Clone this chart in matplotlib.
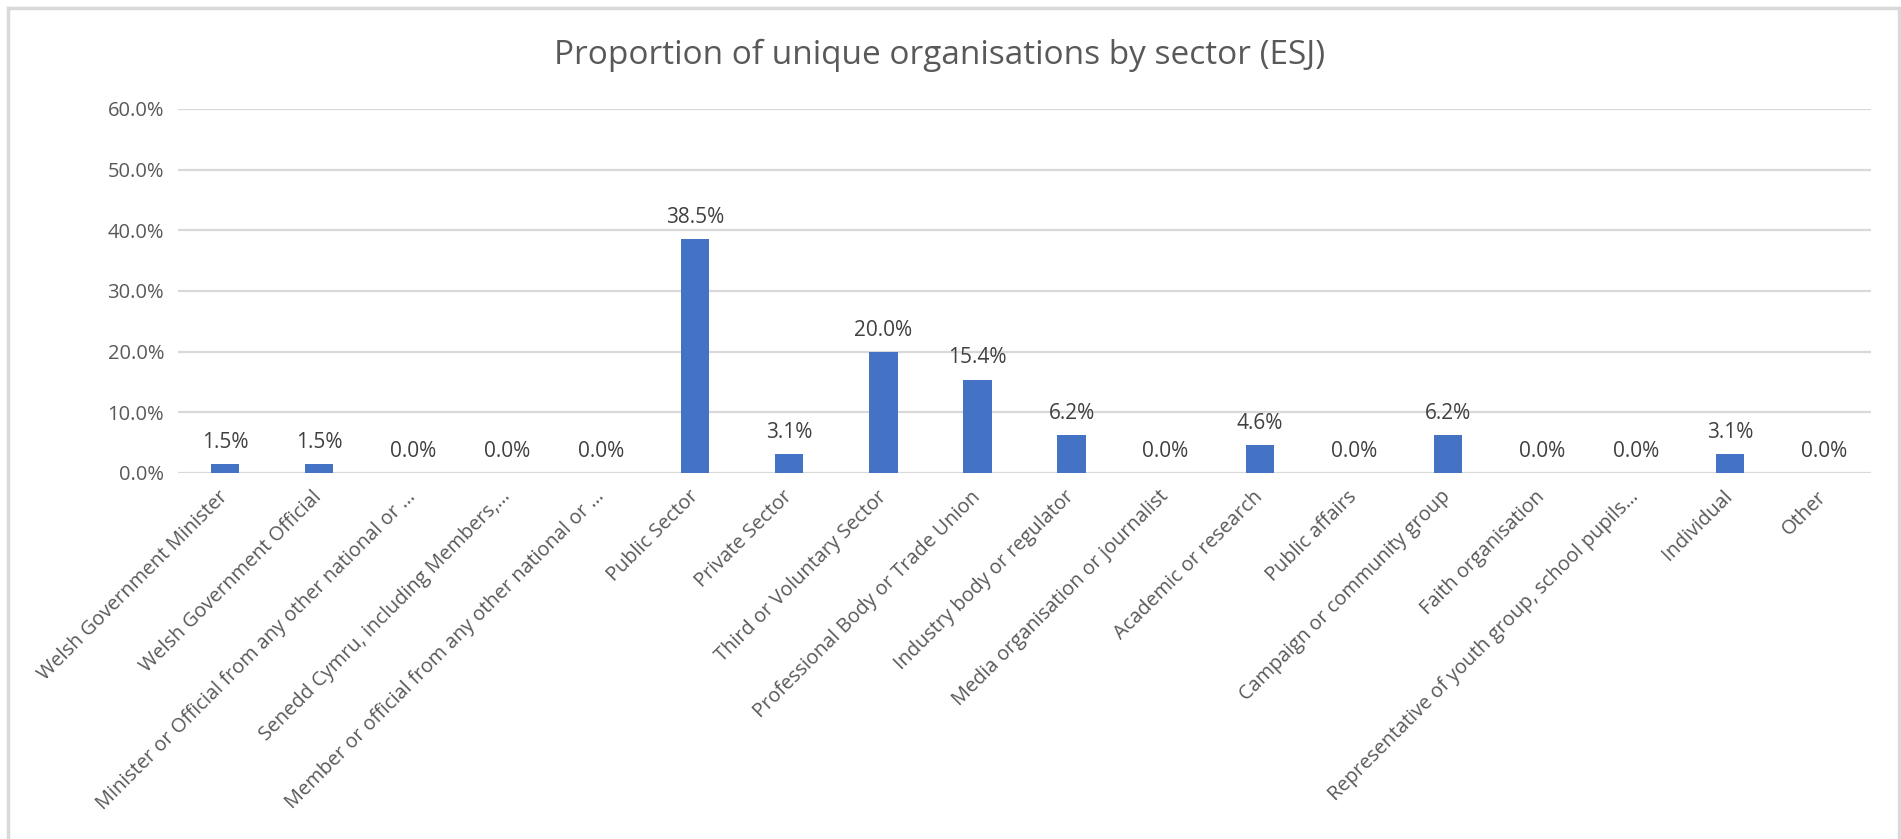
import matplotlib
matplotlib.use("Agg")
import matplotlib.pyplot as plt
import numpy as np

# -----------------------------
# Data
# -----------------------------
categories = [
    "Welsh Government Minister",
    "Welsh Government Official",
    "Minister or Official from any other national or …",
    "Senedd Cymru, including Members,…",
    "Member or official from any other national or …",
    "Public Sector",
    "Private Sector",
    "Third or Voluntary Sector",
    "Professional Body or Trade Union",
    "Industry body or regulator",
    "Media organisation or journalist",
    "Academic or research",
    "Public affairs",
    "Campaign or community group",
    "Faith organisation",
    "Representative of youth group, school pupils…",
    "Individual",
    "Other",
]
shares = [1.5, 1.5, 0.0, 0.0, 0.0, 38.5, 3.1, 20.0, 15.4, 6.2,
          0.0, 4.6, 0.0, 6.2, 0.0, 0.0, 3.1, 0.0]
y_ticks = [0, 10, 20, 30, 40, 50, 60]
title = "Proportion of unique organisations by sector (ESJ)"

# -----------------------------
# Style
# -----------------------------
plt.rcParams['font.family'] = ['Open Sans', 'DejaVu Sans']
text_col = '#595959'
grid_col = '#D9D9D9'
bar_col = '#4472C4'

W, H = 1901, 839
fig = plt.figure(figsize=(W / 100, H / 100), dpi=100)
ax = fig.add_axes([178 / W, 1 - 473 / H, (1871 - 178) / W, (473 - 109) / H])

x = np.arange(len(categories))
ax.bar(x, shares, width=0.3, color=bar_col, zorder=3)
ax.set_xlim(-0.5, len(categories) - 0.5)
ax.set_ylim(0, 60)

ax.set_yticks(y_ticks)
ax.set_yticklabels([f"{v:.1f}%" for v in y_ticks], fontsize=14.5, color=text_col)
ax.yaxis.grid(True, color=grid_col, linewidth=1.6, zorder=0)
ax.set_axisbelow(True)
for s in ax.spines.values():
    s.set_visible(False)
ax.tick_params(axis='both', length=0)
ax.tick_params(axis='y', pad=10)

ax.set_xticks(x)
ax.set_xticklabels(categories, rotation=45, ha='right', va='center',
                   rotation_mode='anchor', fontsize=14.3, color=text_col)
ax.tick_params(axis='x', pad=15)

# data labels
for xi, v in zip(x, shares):
    ax.annotate(f"{v:.1f}%", (xi, v), xytext=(0, 8), textcoords='offset points',
                ha='center', va='bottom', fontsize=15, color='#404040')

fig.text(940 / W, 1 - 55 / H, title, ha='center', va='center', fontsize=24, color=text_col)

# chart border (bottom edge is cut off in the original)
for xs, ys in [([8 / W, 8 / W], [0, 1 - 8 / H]),
               ([8 / W, 1899 / W], [1 - 8 / H, 1 - 8 / H]),
               ([1899 / W, 1899 / W], [0, 1 - 8 / H])]:
    fig.add_artist(plt.Line2D(xs, ys, color=grid_col, linewidth=2.5))

fig.savefig("out.png", dpi=100, facecolor='white')
